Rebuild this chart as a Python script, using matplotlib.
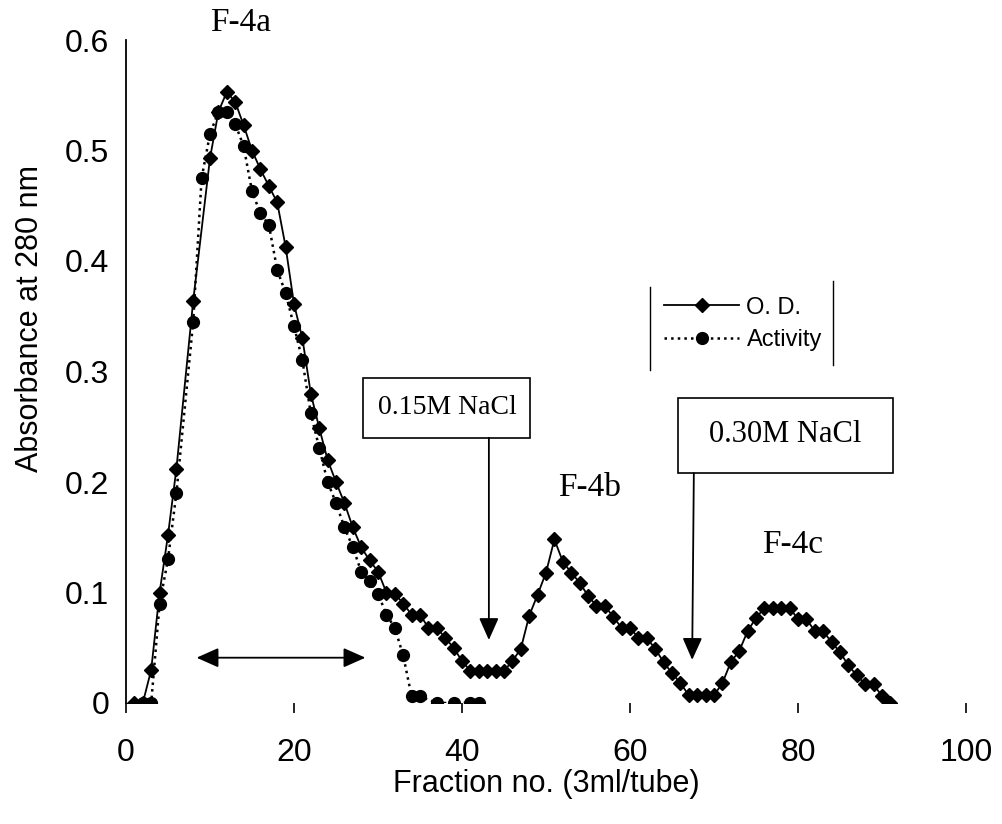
import matplotlib
matplotlib.use("Agg")
import matplotlib.pyplot as plt
from matplotlib.patches import Rectangle

plt.rcParams['font.family'] = ['Liberation Sans', 'DejaVu Sans']

od_frac = [1, 2, 3, 4, 5, 6, 8, 10, 11, 12, 13, 14, 15, 16, 17, 18, 19, 20,
           21, 22, 23, 24, 25, 26, 27, 28, 29, 30, 31, 32, 33, 34, 35, 36, 37,
           38, 39, 40, 41, 42, 43, 44, 45, 46, 47, 48, 49, 50, 51, 52, 53, 54,
           55, 56, 57, 58, 59, 60, 61, 62, 63, 64, 65, 66, 67, 68, 69, 70, 71,
           72, 73, 74, 75, 76, 77, 78, 79, 80, 81, 82, 83, 84, 85, 86, 87, 88,
           89, 90, 91]
od_abs = [0.0, 0.0, 0.03, 0.10, 0.152, 0.212, 0.364, 0.493, 0.535, 0.553,
          0.544, 0.523, 0.50, 0.483, 0.468, 0.453, 0.413, 0.361, 0.330, 0.280,
          0.249, 0.220, 0.200, 0.181, 0.159, 0.141, 0.129, 0.119, 0.100, 0.099,
          0.090, 0.080, 0.080, 0.068, 0.068, 0.059, 0.050, 0.038, 0.029, 0.029,
          0.029, 0.029, 0.029, 0.038, 0.049, 0.079, 0.098, 0.118, 0.148, 0.128,
          0.118, 0.109, 0.097, 0.088, 0.088, 0.078, 0.068, 0.068, 0.059, 0.059,
          0.049, 0.037, 0.027, 0.018, 0.007, 0.007, 0.007, 0.007, 0.018, 0.037,
          0.047, 0.065, 0.077, 0.086, 0.086, 0.086, 0.086, 0.076, 0.076, 0.065,
          0.065, 0.055, 0.046, 0.034, 0.025, 0.017, 0.017, 0.006, 0.0]

act_frac = [2, 3, 4, 5, 6, 8, 9, 10, 11, 12, 13, 14, 15, 16, 17, 18, 19, 20,
            21, 22, 23, 24, 25, 26, 27, 28, 29, 30, 31, 32, 33, 34, 35, 37, 39,
            41, 42]
act_abs = [0.0, 0.0, 0.09, 0.13, 0.19, 0.345, 0.475, 0.515, 0.535, 0.535,
           0.524, 0.504, 0.463, 0.443, 0.433, 0.392, 0.371, 0.341, 0.310, 0.262,
           0.231, 0.200, 0.181, 0.159, 0.141, 0.119, 0.110, 0.099, 0.080, 0.068,
           0.043, 0.006, 0.006, 0.0, 0.0, 0.0, 0.0]

x_ticks = [0, 20, 40, 60, 80, 100]
y_ticks = [0, 0.1, 0.2, 0.3, 0.4, 0.5, 0.6]
y_tick_labels = ['0', '0.1', '0.2', '0.3', '0.4', '0.5', '0.6']

serif = ['Liberation Serif', 'DejaVu Serif']

fig = plt.figure(figsize=(10.03, 8.24), dpi=100)
ax = fig.add_axes([126 / 1003, 121 / 824, 840 / 1003, 663 / 824])

ax.plot(od_frac, od_abs, '-', color='black', lw=1.3, marker='D', ms=7,
        label='O. D.')
ax.plot(act_frac, act_abs, ':', color='black', lw=1.8, marker='o', ms=8.5,
        label='Activity')

ax.set_xlim(0, 100)
ax.set_ylim(0, 0.6)
for s in ['top', 'right', 'bottom']:
    ax.spines[s].set_visible(False)
ax.spines['left'].set_linewidth(1.3)

ax.set_xticks(x_ticks)
ax.set_xticklabels([str(t) for t in x_ticks], fontsize=23)
ax.set_yticks(y_ticks)
ax.set_yticklabels(y_tick_labels, fontsize=23)
ax.tick_params(axis='x', direction='out', length=7, width=1.2, pad=18)
ax.tick_params(axis='y', length=0, pad=12)

ax.set_xlabel('Fraction no. (3ml/tube)', fontsize=22, labelpad=1)
ax.set_ylabel('Absorbance at 280 nm', fontsize=22)
ax.yaxis.set_label_coords(-0.097, 0.58)

# peak labels
ax.text(13.6, 0.616, 'F-4a', family=serif, fontsize=24, ha='center', va='center',
        clip_on=False)
ax.text(55.2, 0.195, 'F-4b', family=serif, fontsize=24, ha='center', va='center')
ax.text(79.3, 0.143, 'F-4c', family=serif, fontsize=24, ha='center', va='center')

# salt step boxes + arrows
ax.add_patch(Rectangle((28.2, 0.240), 19.9, 0.054, fc='white', ec='black', lw=1.2))
ax.text(38.2, 0.267, '0.15M NaCl', family=serif, fontsize=20, ha='center', va='center')
ax.add_patch(Rectangle((65.7, 0.208), 25.6, 0.068, fc='white', ec='black', lw=1.2))
ax.text(78.5, 0.243, '0.30M NaCl', family=serif, fontsize=22, ha='center', va='center')

head = '-|>,head_length=0.45,head_width=0.2'
ax.annotate('', xy=(43.2, 0.057), xytext=(43.2, 0.240),
            arrowprops=dict(arrowstyle=head, color='black', lw=1.3,
                            mutation_scale=30, shrinkA=0, shrinkB=0))
ax.annotate('', xy=(67.4, 0.039), xytext=(67.6, 0.208),
            arrowprops=dict(arrowstyle=head, color='black', lw=1.3,
                            mutation_scale=30, shrinkA=0, shrinkB=0))
ax.annotate('', xy=(8.4, 0.041), xytext=(28.5, 0.041),
            arrowprops=dict(arrowstyle='<|-|>,head_length=0.45,head_width=0.2',
                            color='black', lw=1.3, mutation_scale=30,
                            shrinkA=0, shrinkB=0))

leg = ax.legend(loc='upper left', bbox_to_anchor=(0.615, 0.645), frameon=False,
                fontsize=17, handlelength=3.2, handletextpad=0.3,
                labelspacing=0.45)
ax.plot([0.624, 0.624], [0.502, 0.627], color='black', lw=1.0,
        transform=ax.transAxes)
ax.plot([0.842, 0.842], [0.51, 0.637], color='black', lw=1.0,
        transform=ax.transAxes)

fig.savefig('out.png', dpi=100)
